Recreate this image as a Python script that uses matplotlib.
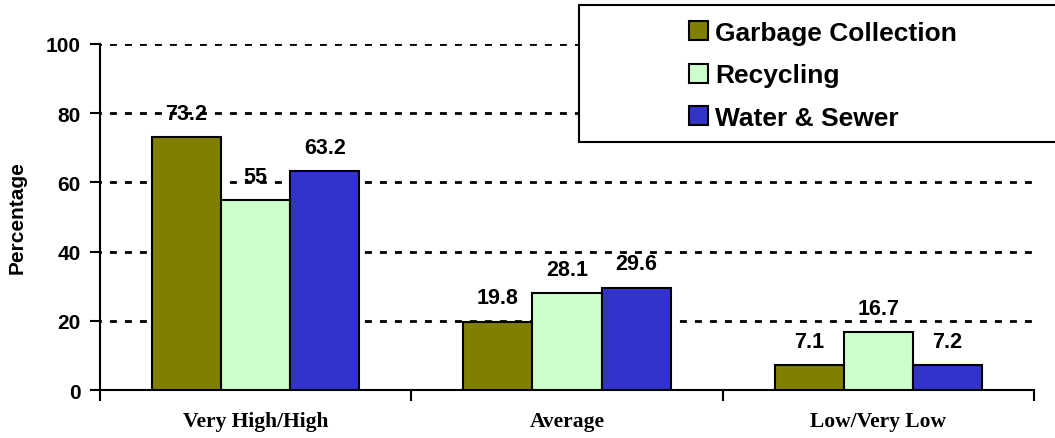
import matplotlib.pyplot as plt
from matplotlib.patches import Rectangle
import numpy as np

categories = ['Very High/High', 'Average', 'Low/Very Low']
garbage = [73.2, 19.8, 7.1]
recycling = [55, 28.1, 16.7]
water = [63.2, 29.6, 7.2]
series_names = ['Garbage Collection', 'Recycling', 'Water & Sewer']
colors = ['#808000', '#CCFFCC', '#3333CC']

sans = ['Liberation Sans', 'DejaVu Sans']
serif = ['Liberation Serif', 'DejaVu Serif']

fig = plt.figure(figsize=(10.55, 4.39), dpi=100)
ax = fig.add_axes([0.0948, 0.1093, 0.8853, 0.7882])

x = np.arange(len(categories))
w = 0.222
handles = []
for i, (vals, col) in enumerate(zip([garbage, recycling, water], colors)):
    pos = x + (i - 1) * w
    b = ax.bar(pos, vals, width=w, color=col, edgecolor='black', linewidth=1.5, zorder=3)
    handles.append(b)
    for px, v in zip(pos, vals):
        ax.annotate(f'{v:g}', (px, v), xytext=(0, 17), textcoords='offset points',
                    ha='center', va='center', fontsize=15.5, fontweight='bold',
                    family=sans, zorder=1)

ax.set_xlim(-0.5, 2.5)
ax.set_ylim(0, 100)
ax.set_yticks([0, 20, 40, 60, 80, 100])
ax.yaxis.grid(True, color='black', linestyle=(2, (2.5, 2.9)), linewidth=2.0, zorder=0)
ax.set_axisbelow(True)

ax.set_xticks(x)
ax.set_xticklabels(categories, family=serif, fontsize=15.5, fontweight='bold')
ax.tick_params(axis='x', which='major', length=0, pad=15)
ax.set_xticks([-0.5, 0.5, 1.5, 2.5], minor=True)
ax.tick_params(axis='x', which='minor', length=8, width=1.5, direction='out')
ax.tick_params(axis='y', length=7, width=1.5, pad=7)
for lab in ax.get_yticklabels():
    lab.set_family(sans)
    lab.set_fontsize(15)
    lab.set_fontweight('bold')

ax.set_ylabel('Percentage', family=sans, fontsize=15, fontweight='bold', labelpad=14)

for s in ['top', 'right']:
    ax.spines[s].set_visible(False)
for s in ['left', 'bottom']:
    ax.spines[s].set_linewidth(1.5)

# legend box runs off the right edge
fig.patches.append(Rectangle((0.549, 0.674), 0.5, 0.312, transform=fig.transFigure,
                             facecolor='white', edgecolor='black', linewidth=1.5,
                             zorder=10, clip_on=False))
leg = fig.legend(handles, series_names, loc='upper left', bbox_to_anchor=(0.641, 0.98),
                 frameon=False, prop={'family': sans, 'size': 19, 'weight': 'bold'},
                 handlelength=0.72, handleheight=0.72, handletextpad=0.25,
                 labelspacing=0.7, borderpad=0)
leg.set_zorder(11)

fig.savefig('out.png', dpi=100)
